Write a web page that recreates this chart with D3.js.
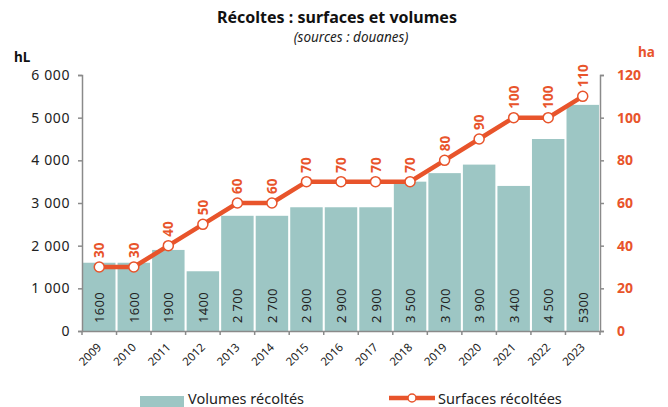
<!DOCTYPE html>
<html lang='fr'>
    <head>
        <meta charset="utf-8">
        <title>Récoltes</title>
        <script src='https://d3js.org/d3.v7.min.js'></script>
        <style>
            body { margin: 0; background: #fff; }
            text { font-family: 'Noto Sans', sans-serif; }
        </style>
    </head>
    <body>
        <script type='text/javascript'>
            var w = 668;
            var h = 407;

            var years = ['2009','2010','2011','2012','2013','2014','2015','2016','2017','2018','2019','2020','2021','2022','2023'];
            var volumes = [1600, 1600, 1900, 1400, 2700, 2700, 2900, 2900, 2900, 3500, 3700, 3900, 3400, 4500, 5300];
            var volumeLabels = ['1600','1600','1900','1400','2 700','2 700','2 900','2 900','2 900','3 500','3 700','3 900','3 400','4 500','5300'];
            var surfaces = [30, 30, 40, 50, 60, 60, 70, 70, 70, 70, 80, 90, 100, 100, 110];
            var leftTicks = [0, 1000, 2000, 3000, 4000, 5000, 6000];
            var rightTicks = [0, 20, 40, 60, 80, 100, 120];

            var orange = '#e8542b';
            var teal = '#9dc6c4';
            var grey = '#8a8a8a';

            // plot area (note: "top" is reserved on window)
            var pLeft = 82, pRight = 600, pTop = 75, pBottom = 331;

            var xScale = d3.scaleBand()
                .domain(years)
                .range([pLeft, pRight])
                .paddingInner(0.06)
                .paddingOuter(0.03);

            var yScale = d3.scaleLinear()
                .domain([0, 6000])
                .range([pBottom, pTop]);

            var y2Scale = d3.scaleLinear()
                .domain([0, 120])
                .range([pBottom, pTop]);

            var svg = d3.select('body')
                        .append('svg')
                        .attr('width', w)
                        .attr('height', h);

            // titles
            svg.append('text')
                .attr('x', 337).attr('y', 23)
                .attr('text-anchor', 'middle')
                .attr('font-size', '16px')
                .attr('font-weight', 'bold')
                .attr('fill', '#111')
                .text('Récoltes : surfaces et volumes');
            svg.append('text')
                .attr('x', 351).attr('y', 42)
                .attr('text-anchor', 'middle')
                .attr('font-size', '13.5px')
                .attr('font-style', 'italic')
                .attr('fill', '#222')
                .text('(sources : douanes)');
            svg.append('text')
                .attr('x', 14).attr('y', 62)
                .attr('font-size', '13.5px')
                .attr('font-weight', 'bold')
                .attr('fill', '#111')
                .text('hL');
            svg.append('text')
                .attr('x', 638).attr('y', 57)
                .attr('font-size', '13.5px')
                .attr('font-weight', 'bold')
                .attr('fill', orange)
                .text('ha');

            // bars
            svg.selectAll('rect.bar')
                .data(volumes)
                .enter()
                .append('rect')
                .attr('class', 'bar')
                .attr('x', function(d, i){ return xScale(years[i]); })
                .attr('y', function(d){ return yScale(d); })
                .attr('width', xScale.bandwidth())
                .attr('height', function(d){ return pBottom - yScale(d); })
                .attr('fill', teal);

            // bar labels
            svg.selectAll('text.vol')
                .data(volumeLabels)
                .enter()
                .append('text')
                .attr('class', 'vol')
                .attr('transform', function(d, i){
                    var cx = xScale(years[i]) + xScale.bandwidth() / 2 + 5;
                    return 'translate(' + cx + ',' + (pBottom - 8) + ') rotate(-90)';
                })
                .attr('font-size', '13px')
                .attr('letter-spacing', '0.3px')
                .attr('fill', '#222')
                .text(function(d){ return d; });

            // axes
            var yAxis = d3.axisLeft(yScale)
                .tickValues(leftTicks)
                .tickSize(4)
                .tickFormat(function(d){ return d >= 1000 ? d3.format(',')(d).replace(',', ' ') : d; });
            var gy = svg.append('g')
                .attr('transform', 'translate(' + pLeft + ',0)')
                .call(yAxis);
            gy.selectAll('text')
                .attr('font-size', '14px')
                .attr('letter-spacing', '0.6px')
                .attr('fill', '#222')
                .attr('x', -12);

            var y2Axis = d3.axisRight(y2Scale)
                .tickValues(rightTicks)
                .tickSize(4);
            var gy2 = svg.append('g')
                .attr('transform', 'translate(' + pRight + ',0)')
                .call(y2Axis);
            gy2.selectAll('text')
                .attr('font-size', '14px')
                .attr('font-weight', 'bold')
                .attr('fill', orange)
                .attr('x', 17);

            var xAxis = d3.axisBottom(xScale).tickSize(0).tickSizeOuter(0);
            var gx = svg.append('g')
                .attr('transform', 'translate(0,' + pBottom + ')')
                .call(xAxis);
            gx.selectAll('text')
                .attr('font-size', '11.5px')
                .attr('fill', '#222')
                .attr('text-anchor', 'end')
                .attr('dy', null)
                .attr('y', 0)
                .attr('transform', 'translate(3,17) rotate(-45)');
            // boundary ticks between bands
            var step = xScale.step();
            var bounds = years.map(function(d){ return xScale(d) - xScale.paddingInner() * step / 2; });
            bounds.push(pRight);
            gx.selectAll('line.bound')
                .data(bounds)
                .enter()
                .append('line')
                .attr('class', 'bound')
                .attr('x1', function(d){ return d; })
                .attr('x2', function(d){ return d; })
                .attr('y1', 0).attr('y2', 4)
                .attr('stroke', grey)
                .attr('stroke-width', 1.5);

            svg.selectAll('.domain, .tick line').attr('stroke', grey).attr('stroke-width', 1.5);

            // line
            var line = d3.line()
                .x(function(d, i){ return xScale(years[i]) + xScale.bandwidth() / 2; })
                .y(function(d){ return y2Scale(d); });
            svg.append('path')
                .datum(surfaces)
                .attr('d', line)
                .attr('fill', 'none')
                .attr('stroke', orange)
                .attr('stroke-width', 4.5);

            svg.selectAll('circle.pt')
                .data(surfaces)
                .enter()
                .append('circle')
                .attr('class', 'pt')
                .attr('cx', function(d, i){ return xScale(years[i]) + xScale.bandwidth() / 2; })
                .attr('cy', function(d){ return y2Scale(d); })
                .attr('r', 5)
                .attr('fill', '#fff')
                .attr('stroke', orange)
                .attr('stroke-width', 1.5);

            svg.selectAll('text.surf')
                .data(surfaces)
                .enter()
                .append('text')
                .attr('class', 'surf')
                .attr('transform', function(d, i){
                    var cx = xScale(years[i]) + xScale.bandwidth() / 2 + 5;
                    return 'translate(' + cx + ',' + (y2Scale(d) - 9) + ') rotate(-90)';
                })
                .attr('font-size', '13.5px')
                .attr('font-weight', 'bold')
                .attr('fill', orange)
                .text(function(d){ return d; });

            // legend
            svg.append('rect')
                .attr('x', 140).attr('y', 396)
                .attr('width', 44).attr('height', 11)
                .attr('fill', teal);
            svg.append('text')
                .attr('x', 188).attr('y', 404)
                .attr('font-size', '14.5px')
                .attr('fill', '#222')
                .text('Volumes récoltés');
            svg.append('line')
                .attr('x1', 389).attr('x2', 435)
                .attr('y1', 398).attr('y2', 398)
                .attr('stroke', orange)
                .attr('stroke-width', 4.5);
            svg.append('circle')
                .attr('cx', 412).attr('cy', 398).attr('r', 4)
                .attr('fill', '#fff')
                .attr('stroke', orange)
                .attr('stroke-width', 1.5);
            svg.append('text')
                .attr('x', 438).attr('y', 404)
                .attr('font-size', '14.5px')
                .attr('fill', '#222')
                .text('Surfaces récoltées');
        </script>
    </body>
</html>
